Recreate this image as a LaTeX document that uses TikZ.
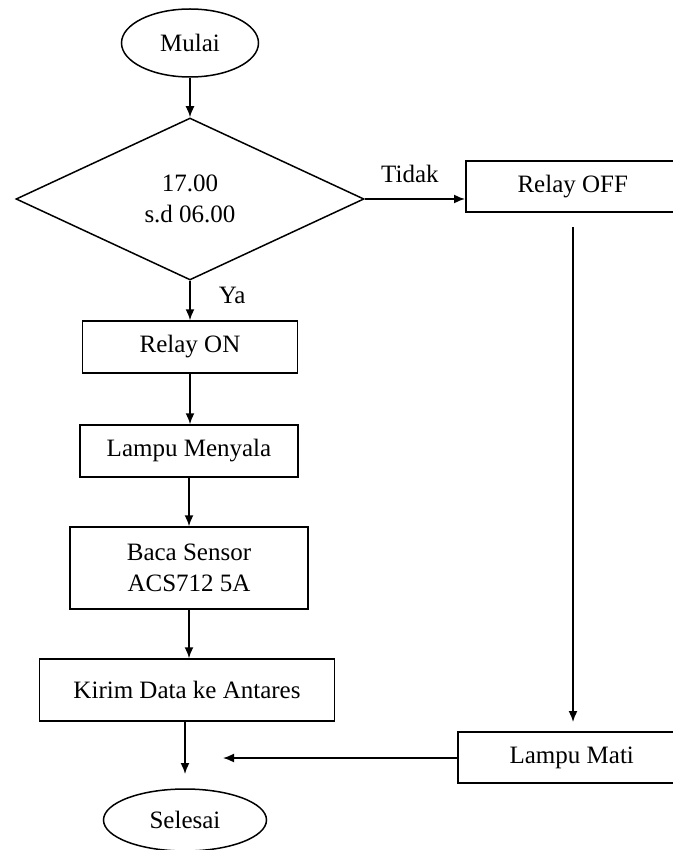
\documentclass[tikz,border=0pt]{standalone}
\usepackage{fontspec}
\setmainfont{Liberation Serif}
\usetikzlibrary{shapes.geometric,arrows.meta}

\begin{document}
\begin{tikzpicture}[x=1pt,y=-1pt,>={Latex[length=11pt,width=9pt]},
  every node/.style={font=\fontsize{25}{31}\selectfont},
  terminal/.style={draw,ellipse,line width=1.5pt,inner sep=0pt},
  process/.style={draw,rectangle,line width=1.5pt,inner sep=0pt,align=center},
  decision/.style={draw,diamond,line width=1.5pt,inner sep=0pt,align=center},
  flow/.style={->,line width=1.6pt}]
\useasboundingbox (0,0) rectangle (672,850);
% start and decision
\node[terminal,minimum width=137pt,minimum height=68pt](mulai) at (190,43){Mulai};
\node[decision,minimum width=348pt,minimum height=162pt](jam) at (190,199){17.00\\s.d 06.00};
% left branch
\node[process,minimum width=215pt,minimum height=52pt](on) at (190,347){Relay ON};
\node[process,minimum width=218pt,minimum height=52pt](nyala) at (189,451){Lampu Menyala};
\node[process,minimum width=238pt,minimum height=82pt](baca) at (189,568){Baca Sensor\\ACS712 5A};
\node[process,minimum width=295pt,minimum height=62pt](kirim) at (187,690){Kirim Data ke Antares};
% right branch (boxes run off the page)
\node[process,anchor=west,minimum width=240pt,minimum height=51pt](off) at (465,186.5){Relay OFF\hspace*{26pt}};
\node[process,anchor=west,minimum width=240pt,minimum height=51pt](mati) at (457,757.5){Lampu Mati\hspace*{12pt}};
% end
\node[terminal,minimum width=163pt,minimum height=62pt](selesai) at (185,820){Selesai};
\coordinate (offbawah) at (573,227);
\coordinate (matiatas) at (573,722);
\coordinate (kirimujung) at (185,774);
\coordinate (matiujung) at (223,758);

\draw[flow](mulai.south)--(mulai.south |- jam.north);
\draw[flow](jam.east)--(off.west |- jam.east)node[pos=.45,above=15pt,inner sep=0pt]{Tidak};
\draw[flow](jam.south)--(jam.south |- on.north)node[pos=.38,right=28pt,inner sep=0pt]{Ya};
\draw[flow](on.south)--(on.south |- nyala.north);
\draw[flow](nyala.south)--(nyala.south |- baca.north);
\draw[flow](baca.south)--(baca.south |- kirim.north);
\draw[flow](kirim.south -| kirimujung)--(kirimujung);
\draw[flow](offbawah)--(matiatas);
\draw[flow](mati.west |- matiujung)--(matiujung);
\end{tikzpicture}
\end{document}
